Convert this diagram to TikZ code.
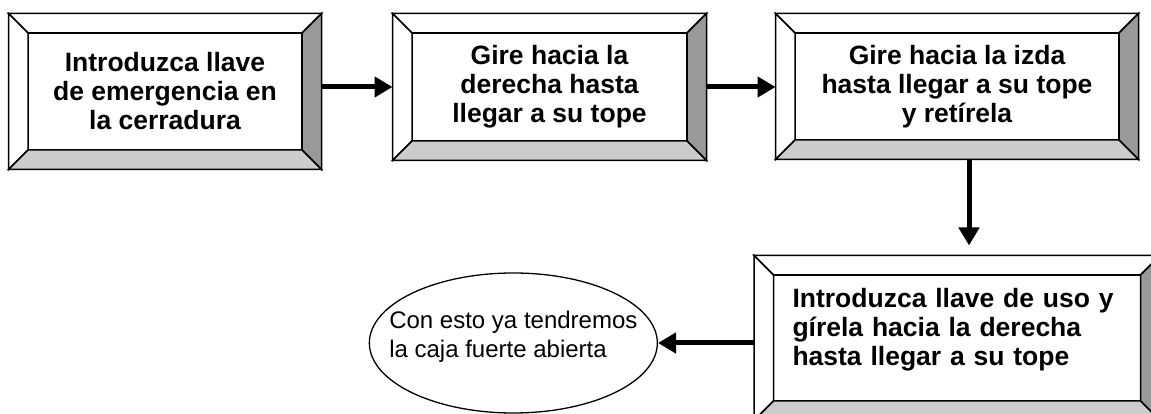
\documentclass[tikz,border=0pt]{standalone}
\usepackage{fontspec}
\setmainfont{Liberation Sans}
\usetikzlibrary{positioning, arrows.meta, shapes.geometric}

\begin{document}
\begin{tikzpicture}[
                x=1pt, y=1pt,
                panel/.style={
                    rectangle,
                    draw=black, line width=1.5pt,
                    fill=white,
                    inner sep=0pt,
                    outer sep=19.5pt,
                    align=center,
                    font=\fontsize{26.5}{29}\selectfont\bfseries
                    },
                bubble/.style={
                    ellipse,
                    draw=black, line width=1.3pt,
                    inner xsep=-30pt, inner ysep=0pt,
                    minimum width=288pt, minimum height=140pt,
                    align=left,
                    font=\fontsize{24}{29}\selectfont
                    },
                flow/.style={
                    line width=5pt,
                    -{Triangle[length=18pt, width=20pt]}
                    },
                rim/.style={draw=black, line width=1.5pt}
                ]
            \useasboundingbox (0,0) rectangle (1151,414);
            \node [panel, minimum width=274pt, minimum height=117pt] (b1) at (165,322.5)
                {Introduzca llave\\de emergencia en\\la cerradura};
            \node [panel, minimum width=275pt, minimum height=108pt,
                   right=71pt of b1.north east, anchor=north west] (b2)
                {Gire hacia la\\derecha hasta\\llegar a su tope};
            \node [panel, minimum width=324pt, minimum height=107pt,
                   right=69pt of b2.north east, anchor=north west] (b3)
                {Gire hacia la izda\\hasta llegar a su tope\\y retírela};
            \node [panel, minimum width=367pt, minimum height=126pt,
                   text width=329pt, align=left, text depth=79.5pt, below=96pt of b3] (b4)
                {Introduzca llave de uso y\\gírela hacia la derecha\\hasta llegar a su tope};
            \node [bubble, text depth=17pt, left=96pt of b4, yshift=-5pt] (fin)
                {Con esto ya tendremos\\la caja fuerte abierta};
            % bevelled frames
            \foreach \b in {b1, b2, b3, b4} {
                \filldraw [rim, fill=white] (\b.north west) -- (\b.north east)
                    -- ([shift={(-19.5pt,-19.5pt)}]\b.north east) -- ([shift={(19.5pt,-19.5pt)}]\b.north west) -- cycle;
                \filldraw [rim, fill=white] (\b.north west) -- ([shift={(19.5pt,-19.5pt)}]\b.north west)
                    -- ([shift={(19.5pt,19.5pt)}]\b.south west) -- (\b.south west) -- cycle;
                \filldraw [rim, fill=black!40] (\b.north east) -- (\b.south east)
                    -- ([shift={(-19.5pt,19.5pt)}]\b.south east) -- ([shift={(-19.5pt,-19.5pt)}]\b.north east) -- cycle;
                \filldraw [rim, fill=black!20] (\b.south west) -- ([shift={(19.5pt,19.5pt)}]\b.south west)
                    -- ([shift={(-19.5pt,19.5pt)}]\b.south east) -- (\b.south east) -- cycle;
            }
            \draw [flow] (b1.east |- b2.west) -- (b2.west);
            \draw [flow] (b2.east) -- (b3.west |- b2.east);
            \draw [flow, shorten >=10pt] ([xshift=12pt]b3.south) -- ([xshift=12pt]b4.north);
            \draw [flow] (b4.west |- fin.east) -- (fin.east);
        \end{tikzpicture}
\end{document}
